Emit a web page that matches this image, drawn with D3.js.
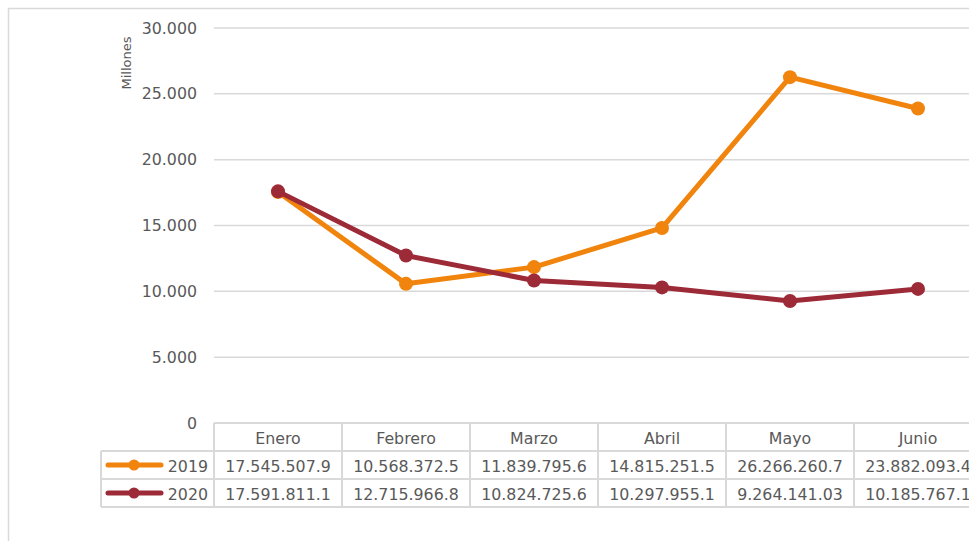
<!DOCTYPE html>
<html>
<head>
<meta charset="utf-8">
<script src="https://cdn.jsdelivr.net/npm/d3@7"></script>
<style>
  body { margin: 0; background: #fff; }
  text { font-family: "DejaVu Sans", Verdana, sans-serif; fill: #595959; }
</style>
</head>
<body>
<div class="chart"></div>
<script>
var months = ["Enero", "Febrero", "Marzo", "Abril", "Mayo", "Junio"];
var seriesNames = ["2019", "2020"];
var labels2019 = ["17.545.507.9", "10.568.372.5", "11.839.795.6", "14.815.251.5", "26.266.260.7", "23.882.093.4"];
var labels2020 = ["17.591.811.1", "12.715.966.8", "10.824.725.6", "10.297.955.1", "9.264.141.03", "10.185.767.1"];
var yTicks = [0, 5000, 10000, 15000, 20000, 25000, 30000];
var colors = ["#F0840D", "#9C2A37"];

// table labels use "." for both thousands and decimals: keep the last one as decimal point
function parseLabel(s) {
  var i = s.lastIndexOf(".");
  return +(s.slice(0, i).replace(/\./g, "") + "." + s.slice(i + 1));
}
var values = [labels2019, labels2020].map(function (arr) {
  return arr.map(function (s) { return parseLabel(s) / 1000; });
});
var tableLabels = [labels2019, labels2020];

var svgWidth = 969, svgHeight = 541;
var fontSize = "15.8px";
var svg = d3.select(".chart").append("svg")
  .attr("width", svgWidth)
  .attr("height", svgHeight);

// outer frame (only top and left visible)
svg.append("path")
  .attr("d", "M8.5,541 V8.5 H969")
  .attr("fill", "none")
  .attr("stroke", "#d9d9d9")
  .attr("stroke-width", 1.5);

var x = d3.scaleBand().domain(months).range([214, 982]);
var y = d3.scaleLinear().domain([0, 30000]).range([423, 28]);

// gridlines
svg.append("g").selectAll("line")
  .data(yTicks.filter(function (d) { return d > 0; }))
  .enter().append("line")
  .attr("x1", 214).attr("x2", svgWidth)
  .attr("y1", d => y(d)).attr("y2", d => y(d))
  .attr("stroke", "#d9d9d9")
  .attr("stroke-width", 1.5);

// y tick labels
var fmt = d3.formatLocale({ decimal: ",", thousands: ".", grouping: [3], currency: ["", ""] }).format(",");
svg.append("g").selectAll("text")
  .data(yTicks)
  .enter().append("text")
  .attr("x", 197)
  .attr("y", d => y(d))
  .attr("dy", "0.35em")
  .attr("text-anchor", "end")
  .attr("font-size", fontSize)
  .text(d => fmt(d));

svg.append("text")
  .attr("transform", "translate(131,63) rotate(-90)")
  .attr("text-anchor", "middle")
  .attr("font-size", "13px")
  .text("Millones");

// data table
var rowH = 28;
var tableTop = 423;
var grid = "#d9d9d9";
var tg = svg.append("g");
[0, 1, 2, 3].forEach(function (r) {
  tg.append("line")
    .attr("x1", r === 0 ? 214 : 101).attr("x2", svgWidth)
    .attr("y1", tableTop + r * rowH).attr("y2", tableTop + r * rowH)
    .attr("stroke", grid).attr("stroke-width", 2);
});
tg.append("line").attr("x1", 101).attr("x2", 101).attr("y1", tableTop + rowH).attr("y2", tableTop + 3 * rowH)
  .attr("stroke", grid).attr("stroke-width", 2);
tg.selectAll(".vline")
  .data(months)
  .enter().append("line")
  .attr("class", "vline")
  .attr("x1", d => x(d)).attr("x2", d => x(d))
  .attr("y1", tableTop).attr("y2", tableTop + 3 * rowH)
  .attr("stroke", grid).attr("stroke-width", 2);

tg.selectAll(".mlabel")
  .data(months)
  .enter().append("text")
  .attr("class", "mlabel")
  .attr("x", d => x(d) + x.bandwidth() / 2)
  .attr("y", tableTop + rowH / 2 + 1)
  .attr("dy", "0.35em")
  .attr("text-anchor", "middle")
  .attr("font-size", fontSize)
  .text(d => d);

tableLabels.forEach(function (arr, si) {
  var cy = tableTop + rowH * (si + 1) + rowH / 2 + 1;
  tg.selectAll(".v" + si)
    .data(arr)
    .enter().append("text")
    .attr("x", (d, i) => x(months[i]) + x.bandwidth() / 2)
    .attr("y", cy)
    .attr("dy", "0.35em")
    .attr("text-anchor", "middle")
    .attr("font-size", fontSize)
    .text(d => d);
  // legend key
  tg.append("line")
    .attr("x1", 108).attr("x2", 161).attr("y1", cy - 1).attr("y2", cy - 1)
    .attr("stroke", colors[si]).attr("stroke-width", 5).attr("stroke-linecap", "round");
  tg.append("circle")
    .attr("cx", 134).attr("cy", cy - 1).attr("r", 5.5)
    .attr("fill", colors[si]);
  tg.append("text")
    .attr("x", 208).attr("y", cy)
    .attr("dy", "0.35em")
    .attr("text-anchor", "end")
    .attr("font-size", fontSize)
    .text(seriesNames[si]);
});

// lines and markers
var line = d3.line()
  .x((d, i) => x(months[i]) + x.bandwidth() / 2)
  .y(d => y(d));

values.forEach(function (vals, si) {
  svg.append("path")
    .datum(vals)
    .attr("d", line)
    .attr("fill", "none")
    .attr("stroke", colors[si])
    .attr("stroke-width", 5)
    .attr("stroke-linejoin", "round");
  svg.append("g").selectAll("circle")
    .data(vals)
    .enter().append("circle")
    .attr("cx", (d, i) => x(months[i]) + x.bandwidth() / 2)
    .attr("cy", d => y(d))
    .attr("r", 7)
    .attr("fill", colors[si]);
});
</script>
</body>
</html>
